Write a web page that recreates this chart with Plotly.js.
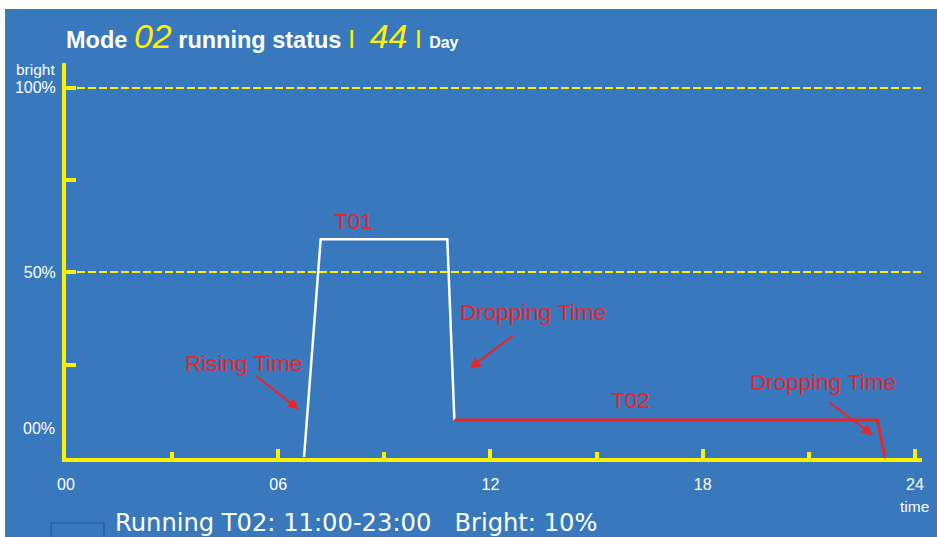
<!DOCTYPE html>
<html>
<head>
<meta charset="utf-8">
<script src="https://cdn.plot.ly/plotly-3.0.1.min.js"></script>
<style>
  html, body { margin: 0; padding: 0; background: #ffffff; width: 937px; height: 537px; overflow: hidden; }
  #chart { position: absolute; left: 5px; top: 9px; width: 932px; height: 528px; }
</style>
</head>
<body>
<div id="chart"></div>
<script>
// ---- data ----
const modeNumber = "02";
const dayNumber = "44";
const hourTickVals = [0, 6, 12, 18, 24];
const hourTickText = ["00", "06", "12", "18", "24"];
const hourMinorVals = [3, 9, 15, 21];
const brightTickVals = [50, 100];
const brightTickText = ["50%", "100%"];
const brightMinorVals = [25, 75];

const t01Hours = [6.73, 7.2, 10.78, 10.98];
const t01Bright = [0, 59, 59, 10];
const t02Hours = [10.98, 22.94, 23.15];
const t02Bright = [10, 10, 0];

const labelNames = ["T01", "Rising Time", "Dropping Time", "T02", "Dropping Time"];
const labelHours = [8.13, 5.03, 13.21, 15.97, 21.4];
const labelBright = [63.9, 25.4, 39.1, 15.4, 20.2];

const arrowHeadHours = [6.58, 11.41, 22.81];
const arrowHeadBright = [12.9, 24.0, 5.9];
const arrowTailHours = [5.31, 12.68, 21.54];
const arrowTailBright = [22.4, 33.2, 15.1];

const statusText = "Running T02: 11:00-23:00\u00a0\u00a0\u00a0Bright: 10%";

// ---- styling ----
const BLUE = "#3878BC";
const YELLOW = "#FFF000";
const RED = "#E8252B";
const WHITE = "#FFFFFF";
const FONT = "Arial, 'Liberation Sans', sans-serif";

const traces = [
  { x: t01Hours, y: t01Bright, type: "scatter", mode: "lines",
    line: { color: WHITE, width: 2.5 }, hoverinfo: "skip", cliponaxis: false },
  { x: t02Hours, y: t02Bright, type: "scatter", mode: "lines",
    line: { color: RED, width: 3 }, hoverinfo: "skip", cliponaxis: false }
];

const annotations = [];
labelNames.forEach((name, i) => {
  annotations.push({ x: labelHours[i], y: labelBright[i], xref: "x", yref: "y",
    text: name, showarrow: false, font: { family: FONT, size: 22.5, color: RED },
    xanchor: "center", yanchor: "middle" });
});
arrowHeadHours.forEach((hx, i) => {
  annotations.push({ x: hx, y: arrowHeadBright[i], xref: "x", yref: "y",
    ax: arrowTailHours[i], ay: arrowTailBright[i], axref: "x", ayref: "y",
    text: "", showarrow: true, arrowhead: 2, arrowsize: 1.1, arrowwidth: 2,
    arrowcolor: RED, standoff: 0 });
});
annotations.push({ x: -0.0105, y: 7.7, xref: "paper", yref: "y", text: "00%",
  showarrow: false, xanchor: "right", yanchor: "middle",
  font: { family: FONT, size: 16, color: WHITE } });
annotations.push({ x: -0.0105, y: 104.9, xref: "paper", yref: "y", text: "bright",
  showarrow: false, xanchor: "right", yanchor: "middle",
  font: { family: FONT, size: 15.5, color: WHITE } });
annotations.push({ x: 24, y: -0.123, xref: "x", yref: "paper", text: "time",
  showarrow: false, xanchor: "center", yanchor: "middle",
  font: { family: FONT, size: 15.5, color: WHITE } });
annotations.push({ x: 0.0545, y: -0.1646, xref: "paper", yref: "paper", text: statusText,
  showarrow: false, xanchor: "left", yanchor: "middle",
  font: { family: "DejaVu Sans, sans-serif", size: 24.2, color: WHITE } });

const titleText =
  "<b>Mode</b> <span style='font-size:34px;color:" + YELLOW + "'><i>" + modeNumber + "</i></span> " +
  "<b>running status</b> <span style='font-size:26px;color:" + YELLOW + "'>I\u00a0\u00a0</span>" +
  "<span style='font-size:34px;color:" + YELLOW + "'><i>" + dayNumber + "</i></span>" +
  "<span style='font-size:26px;color:" + YELLOW + "'>\u00a0I\u00a0</span>" +
  "<b><span style='font-size:16px'>Day</span></b>";

const layout = {
  width: 932, height: 528,
  paper_bgcolor: BLUE, plot_bgcolor: BLUE,
  margin: { l: 61, r: 15, t: 54, b: 79 },
  showlegend: false, hovermode: false,
  title: { text: titleText, x: 0, xref: "paper", xanchor: "left",
    y: 0.942, yref: "container", yanchor: "middle",
    font: { family: FONT, size: 23.5, color: WHITE } },
  xaxis: {
    range: [0, 24.2], showline: true, linecolor: YELLOW, linewidth: 4,
    zeroline: false, showgrid: false,
    tickmode: "array", tickvals: hourTickVals, ticktext: hourTickText,
    ticks: "inside", ticklen: 9, tickwidth: 4, tickcolor: YELLOW,
    ticklabelstandoff: 9,
    tickfont: { family: FONT, size: 16, color: WHITE },
    minor: { tickmode: "array", tickvals: hourMinorVals, ticks: "inside",
      ticklen: 6, tickwidth: 4, tickcolor: YELLOW, showgrid: false },
    layer: "above traces", fixedrange: true
  },
  yaxis: {
    range: [-0.27, 106.7], showline: true, linecolor: YELLOW, linewidth: 4,
    zeroline: false, showgrid: true, gridcolor: YELLOW, gridwidth: 2, griddash: "8px,3px",
    tickmode: "array", tickvals: brightTickVals, ticktext: brightTickText,
    ticks: "inside", ticklen: 10, tickwidth: 4, tickcolor: YELLOW,
    ticklabelstandoff: 3,
    tickfont: { family: FONT, size: 16, color: WHITE },
    minor: { tickmode: "array", tickvals: brightMinorVals, ticks: "inside",
      ticklen: 10, tickwidth: 4, tickcolor: YELLOW, showgrid: false },
    layer: "below traces", fixedrange: true
  },
  shapes: [
    { type: "rect", xref: "paper", yref: "paper", x0: -0.0175, x1: 0.0444, y0: -0.35, y1: -0.1646,
      line: { color: "#1E56A8", width: 1.2 }, fillcolor: "rgba(0,0,0,0)" }
  ],
  annotations: annotations
};

Plotly.newPlot("chart", traces, layout, { staticPlot: true, displayModeBar: false });
</script>
</body>
</html>
